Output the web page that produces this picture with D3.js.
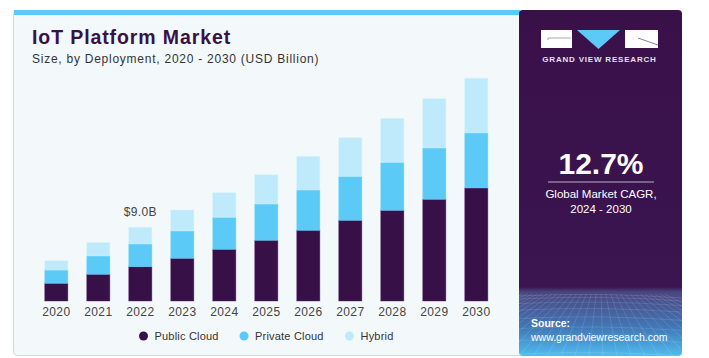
<!DOCTYPE html>
<html>
<head>
<meta charset="utf-8">
<script src="https://cdn.jsdelivr.net/npm/d3@7"></script>
<style>
  html, body { margin: 0; padding: 0; background: #ffffff; }
  svg { display: block; font-family: "Liberation Sans", Arial, sans-serif; }
</style>
</head>
<body>
<svg id="chart" width="709" height="358"></svg>
<script>
const years = ["2020","2021","2022","2023","2024","2025","2026","2027","2028","2029","2030"];
const publicCloud  = [2.16, 3.26, 4.19, 5.21, 6.31, 7.41, 8.63, 9.85, 11.07, 12.42, 13.80];
const privateCloud = [1.62, 2.24, 2.77, 3.34, 3.91, 4.43, 4.92, 5.37, 5.86, 6.26, 6.72];
const hybrid       = [1.14, 1.63, 2.04, 2.56, 3.00, 3.58, 4.11, 4.71, 5.37, 6.02, 6.68];
const seriesNames  = ["Public Cloud", "Private Cloud", "Hybrid"];
const seriesColors = ["#371047", "#5ccaf6", "#bfeafb"];
const annotationYear = "2022";
const annotationText = "$9.0B";

const svg = d3.select("#chart");
const defs = svg.append("defs");

// Left panel
svg.append("rect").attr("x", 13.5).attr("y", 10.5).attr("width", 510).attr("height", 345)
  .attr("rx", 4).attr("fill", "#f3f8fb").attr("stroke", "#d5d9dc");
svg.append("rect").attr("x", 14).attr("y", 10).attr("width", 506).attr("height", 5)
  .attr("fill", "#5ccaf6");

// Right panel
const grad = defs.append("linearGradient").attr("id", "rg").attr("x1", 0).attr("y1", 0).attr("x2", 0).attr("y2", 1);
grad.append("stop").attr("offset", "0").attr("stop-color", "#3a1049");
grad.append("stop").attr("offset", "0.80").attr("stop-color", "#3a1550");
grad.append("stop").attr("offset", "0.815").attr("stop-color", "#4a4580");
grad.append("stop").attr("offset", "0.92").attr("stop-color", "#4179b8");
grad.append("stop").attr("offset", "1").attr("stop-color", "#50bdf0");
const clip = defs.append("clipPath").attr("id", "rp");
clip.append("rect").attr("x", 519).attr("y", 10).attr("width", 163).attr("height", 346).attr("rx", 4);
const rp = svg.append("g").attr("clip-path", "url(#rp)");
rp.append("rect").attr("x", 519).attr("y", 10).attr("width", 163).attr("height", 346).attr("fill", "url(#rg)");
// faint grid lines in bottom area
const gridG = rp.append("g").attr("stroke", "#ffffff").attr("stroke-opacity", 0.12).attr("fill", "none");
for (let i = 0; i < 9; i++) {
  const yy = 296 + i * i * 0.9 + i * 2;
  gridG.append("path").attr("d", `M519,${yy} Q600,${yy - 4} 682,${yy + 2}`);
}
for (let i = -10; i < 20; i++) {
  const xb = 519 + i * 14;
  gridG.append("line").attr("x1", 600 + (xb - 600) * 0.35).attr("y1", 294).attr("x2", xb).attr("y2", 356);
}

// Logo
svg.append("rect").attr("x", 541).attr("y", 30).attr("width", 31).attr("height", 18).attr("fill", "#ffffff");
svg.append("path").attr("d", "M548,40 L548,38 L571,38").attr("stroke", "#9a90a8").attr("fill", "none").attr("stroke-width", 0.8);
svg.append("path").attr("d", "M577,30 L620,30 L598.5,49 Z").attr("fill", "#5ccaf6");
svg.append("rect").attr("x", 625).attr("y", 30).attr("width", 33).attr("height", 18).attr("fill", "#ffffff");
svg.append("path").attr("d", "M638,38 L658,45").attr("stroke", "#6b5a80").attr("fill", "none").attr("stroke-width", 0.8);
svg.append("text").attr("x", 599.5).attr("y", 62).attr("text-anchor", "middle")
  .attr("fill", "#e6e0ec").attr("font-size", 8).attr("font-weight", "bold").attr("letter-spacing", 0.8)
  .text("GRAND VIEW RESEARCH");

// CAGR
svg.append("text").attr("x", 601).attr("y", 174).attr("text-anchor", "middle")
  .attr("fill", "#ffffff").attr("font-size", 30).attr("font-weight", "bold").text("12.7%");
svg.append("line").attr("x1", 548).attr("x2", 654).attr("y1", 182).attr("y2", 182)
  .attr("stroke", "#b8aec4").attr("stroke-width", 1.2);
svg.append("text").attr("x", 601).attr("y", 198).attr("text-anchor", "middle")
  .attr("fill", "#ffffff").attr("font-size", 11.5).text("Global Market CAGR,");
svg.append("text").attr("x", 601).attr("y", 213).attr("text-anchor", "middle")
  .attr("fill", "#ffffff").attr("font-size", 11.5).text("2024 - 2030");

// Source
svg.append("text").attr("x", 531).attr("y", 327).attr("fill", "#ffffff")
  .attr("font-size", 10.5).attr("font-weight", "bold").text("Source:");
svg.append("text").attr("x", 531).attr("y", 341).attr("fill", "#ffffff")
  .attr("font-size", 10.5).text("www.grandviewresearch.com");

// Titles
svg.append("text").attr("x", 32).attr("y", 44).attr("fill", "#3a1048")
  .attr("font-size", 19.5).attr("font-weight", "bold").attr("letter-spacing", 0.9).text("IoT Platform Market");
svg.append("text").attr("x", 32).attr("y", 63).attr("fill", "#333333")
  .attr("font-size", 12).attr("letter-spacing", 0.75).text("Size, by Deployment, 2020 - 2030 (USD Billion)");

// Scales
const x = d3.scaleBand().domain(years).range([35.3, 497.3]).paddingInner(0.45).paddingOuter(0.225);
const y = d3.scaleLinear().domain([0, 30]).range([301, 55.3]);

const table = years.map((yr, i) => ({ year: yr, "Public Cloud": publicCloud[i], "Private Cloud": privateCloud[i], "Hybrid": hybrid[i] }));
const stack = d3.stack().keys(seriesNames)(table);

const g = svg.append("g");
stack.forEach((layer, li) => {
  g.selectAll(null).data(layer).enter().append("rect")
    .attr("x", d => x(d.data.year))
    .attr("width", x.bandwidth())
    .attr("y", d => y(d[1]))
    .attr("height", d => y(d[0]) - y(d[1]))
    .attr("fill", seriesColors[li])
    .attr("stroke", d3.color(seriesColors[li]).brighter(li === 0 ? 1.2 : 0.15).copy({opacity: 0.5}))
    .attr("stroke-width", 0.8);
});

// Axis
const axis = d3.axisBottom(x).tickSize(0).tickPadding(6);
const ag = svg.append("g").attr("transform", "translate(0,301)").call(axis);
ag.select(".domain").remove();
ag.selectAll("text").attr("font-size", 12).attr("fill", "#444444").attr("letter-spacing", 0.4)
  .attr("font-family", "'Liberation Sans', Arial, sans-serif").attr("dy", "0.71em");

// Annotation
const ai = years.indexOf(annotationYear);
const aTotal = publicCloud[ai] + privateCloud[ai] + hybrid[ai];
svg.append("text").attr("x", x(annotationYear) + x.bandwidth() / 2).attr("y", y(aTotal) - 11)
  .attr("text-anchor", "middle").attr("fill", "#444444").attr("font-size", 12).attr("letter-spacing", 0.3).text(annotationText);

// Legend
const legendX = [143.5, 244, 349.5];
const lg = svg.append("g");
seriesNames.forEach((n, i) => {
  lg.append("circle").attr("cx", legendX[i]).attr("cy", 336).attr("r", 4.5).attr("fill", seriesColors[i]);
  lg.append("text").attr("x", legendX[i] + 11).attr("y", 340).attr("fill", "#333333")
    .attr("font-size", 11).attr("letter-spacing", 0.2).text(n);
});
</script>
</body>
</html>
